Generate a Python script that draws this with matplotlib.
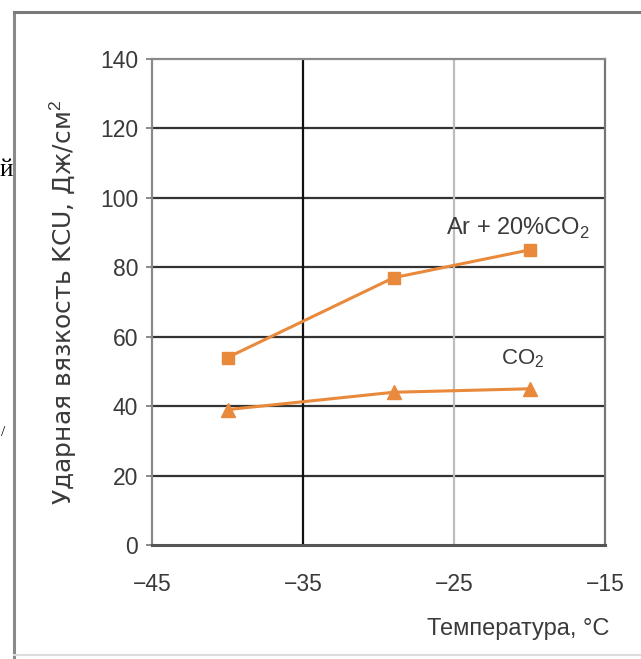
import matplotlib
matplotlib.use('Agg')
import matplotlib.pyplot as plt
from matplotlib.lines import Line2D

# data
temps = [-40, -29, -20]
kcu_ar_co2 = [54, 77, 85]
kcu_co2 = [39, 44, 45]
series_labels = [r'Ar + 20%CO$_\mathrm{2}$', r'CO$_\mathrm{2}$']
x_ticks = [-45, -35, -25, -15]
y_ticks = [0, 20, 40, 60, 80, 100, 120, 140]

plt.rcParams['font.family'] = ['Liberation Sans', 'DejaVu Sans']
plt.rcParams['mathtext.fontset'] = 'custom'
plt.rcParams['mathtext.rm'] = 'Liberation Sans'

W, H = 641, 659
fig = plt.figure(figsize=(W / 100, H / 100), dpi=100)
ax = fig.add_axes([152 / W, 1 - 545 / H, (605 - 152) / W, (545 - 59) / H])

orange = '#e9893c'
txt = '#3a3a3a'

# grid: horizontal dark, vertical -35 black, -25 light
for yv in y_ticks[1:-1]:
    ax.axhline(yv, color='#333333', lw=1.6, zorder=1)
ax.axvline(-35, color='#111111', lw=1.6, zorder=1)
ax.axvline(-25, color='#bdbdbd', lw=1.6, zorder=1)

ax.plot(temps, kcu_ar_co2, color=orange, lw=2.2, marker='s', ms=9, zorder=3)
ax.plot(temps, kcu_co2, color=orange, lw=2.2, marker='^', ms=10, zorder=3)

ax.text(-16.0, 89.5, series_labels[0], ha='right', va='baseline', fontsize=17, color=txt)
ax.text(-19.0, 52.0, series_labels[1], ha='right', va='baseline', fontsize=16, color=txt)

ax.set_xlim(-45, -15)
ax.set_ylim(0, 140)
ax.set_xticks(x_ticks)
ax.set_yticks(y_ticks)
ax.set_xticklabels(['\u2212' + str(abs(v)) for v in x_ticks])
ax.tick_params(axis='y', length=4, width=1.2, color='#777777', pad=6,
               labelsize=16.5, labelcolor=txt)
ax.tick_params(axis='x', length=0, pad=20, labelsize=16.5, labelcolor=txt)

ax.spines['top'].set_color('#8a8a8a')
ax.spines['right'].set_color('#777777')
ax.spines['left'].set_color('#8a8a8a')
ax.spines['bottom'].set_color('#555555')
for s in ['top', 'right', 'left']:
    ax.spines[s].set_linewidth(1.6)
ax.spines['bottom'].set_linewidth(2.2)

fig.text(609 / W, 1 - 629 / H, 'Температура, °C', ha='right', va='center',
         fontsize=17, color=txt)
fig.text(63 / W, 1 - 302 / H, 'Ударная вязкость KCU, Дж/см$^2$', rotation=90,
         ha='center', va='center', fontsize=18, color=txt, family='DejaVu Sans')

# outer frame of the clipped page
fig.add_artist(Line2D([14 / W, 14 / W], [1 - 12 / H, 0], transform=fig.transFigure,
                      color='#8a8a8a', lw=2.2))
fig.add_artist(Line2D([14 / W, 1], [1 - 12 / H, 1 - 12 / H], transform=fig.transFigure,
                      color='#7a7a7a', lw=2.2))
fig.add_artist(Line2D([14 / W, 1], [1 - 655 / H, 1 - 655 / H], transform=fig.transFigure,
                      color='#dddddd', lw=1.5))

# fragments of neighbouring text at the left edge
fig.text(0, 1 - 170 / H, 'й', family='Liberation Serif', fontsize=18,
         ha='left', va='center', color='black')
fig.text(1 / W, 1 - 432 / H, '/', family='Liberation Serif', fontsize=11,
         ha='left', va='center', color='black')

fig.savefig('out.png', dpi=100)
